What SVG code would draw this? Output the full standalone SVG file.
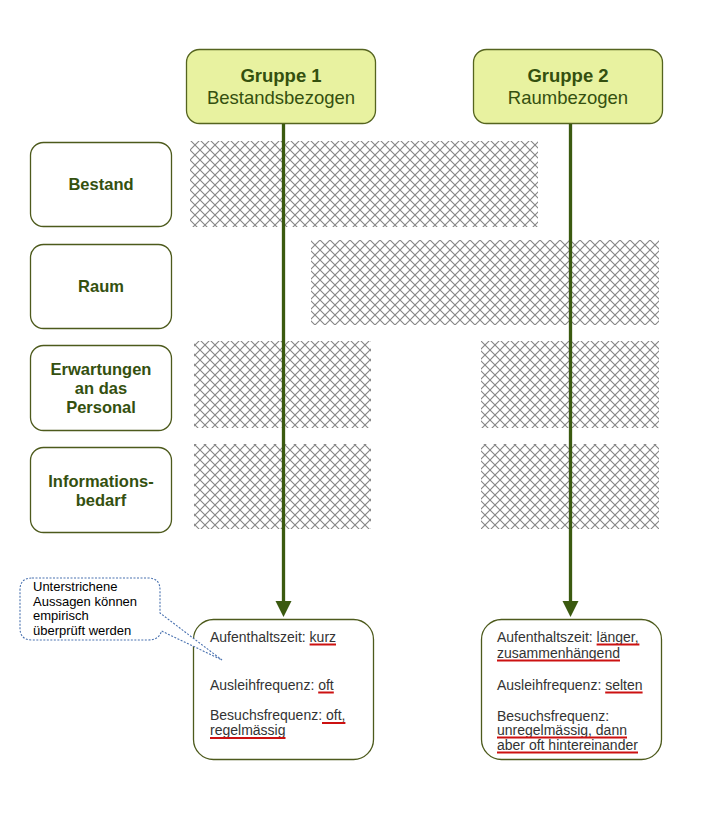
<svg xmlns="http://www.w3.org/2000/svg" width="718" height="822" viewBox="0 0 718 822">
<style>
.hdr{fill:#e8f2a0;stroke:#55641f;stroke-width:1.3}
.box{fill:#ffffff;stroke:#4d5a1c;stroke-width:1.3}
.hd{font-family:"Liberation Sans",Arial,sans-serif;font-size:18.5px;fill:#34500f;text-anchor:middle}
.lbl{font-family:"Liberation Sans",Arial,sans-serif;font-size:16.5px;font-weight:bold;fill:#34500f;text-anchor:middle}
.t{font-family:"Liberation Sans",Arial,sans-serif;font-size:14px;fill:#333}
.c{font-family:"Liberation Sans",Arial,sans-serif;font-size:13px;fill:#000}
.ul{stroke:#cc1111;stroke-width:2}
.hatch{fill:url(#xh)}
.arr{stroke:#3b5a10;stroke-width:3.3}
</style>
<defs>
<pattern id="xh" patternUnits="userSpaceOnUse" width="10" height="10">
<rect width="10" height="10" fill="#fff"/>
<path d="M-1,-1 L11,11 M11,-1 L-1,11" stroke="#858585" stroke-width="1.1" fill="none"/>
</pattern>
</defs>
<rect width="718" height="822" fill="#fff"/>

<g id="hatching">
<rect class="hatch" x="190" y="141" width="348" height="86"/>
<rect class="hatch" x="311" y="240" width="348" height="85"/>
<rect class="hatch" x="194" y="341" width="177" height="87"/>
<rect class="hatch" x="481" y="341" width="178" height="87"/>
<rect class="hatch" x="194" y="444" width="177" height="85"/>
<rect class="hatch" x="481" y="444" width="178" height="85"/>
</g>

<g id="gruppe1">
<rect class="hdr" x="186.5" y="49.5" width="189" height="74" rx="13"/>
<text class="hd" x="281" y="82" font-weight="bold">Gruppe 1</text>
<text class="hd" x="281" y="103.5">Bestandsbezogen</text>
</g>
<g id="gruppe2">
<rect class="hdr" x="473.5" y="49.5" width="189" height="74" rx="13"/>
<text class="hd" x="568" y="82" font-weight="bold">Gruppe 2</text>
<text class="hd" x="568" y="103.5">Raumbezogen</text>
</g>

<g id="bestand">
<rect class="box" x="30.5" y="142.5" width="141" height="84" rx="13"/>
<text class="lbl" x="101" y="190">Bestand</text>
</g>
<g id="raum">
<rect class="box" x="30.5" y="244.5" width="141" height="84" rx="13"/>
<text class="lbl" x="101" y="292">Raum</text>
</g>
<g id="erwartungen">
<rect class="box" x="30.5" y="345.5" width="141" height="85" rx="13"/>
<text class="lbl" x="101" y="375">Erwartungen</text>
<text class="lbl" x="101" y="394">an das</text>
<text class="lbl" x="101" y="413">Personal</text>
</g>
<g id="informationsbedarf">
<rect class="box" x="30.5" y="447.5" width="141" height="85" rx="13"/>
<text class="lbl" x="101" y="487">Informations-</text>
<text class="lbl" x="101" y="506">bedarf</text>
</g>

<g id="connectors">
<line class="arr" x1="283.5" y1="124" x2="283.5" y2="603"/>
<polygon points="275.5,601 291.5,601 283.5,617" fill="#3b5a10"/>
<line class="arr" x1="570.5" y1="124" x2="570.5" y2="603"/>
<polygon points="562.5,601 578.5,601 570.5,617" fill="#3b5a10"/>
</g>

<g id="result1">
<rect class="box" x="193.5" y="619.5" width="180" height="140" rx="20"/>
<text class="t" x="210" y="642">Aufenthaltszeit: kurz</text>
<line class="ul" x1="309.6" y1="644.5" x2="336" y2="644.5"/>
<text class="t" x="210" y="690">Ausleihfrequenz: oft</text>
<line class="ul" x1="318.2" y1="692.5" x2="333.8" y2="692.5"/>
<text class="t" x="210" y="720">Besuchsfrequenz: oft,</text>
<line class="ul" x1="322" y1="723" x2="345.4" y2="723"/>
<text class="t" x="210" y="735">regelmässig</text>
<line class="ul" x1="210" y1="738" x2="285.5" y2="738"/>
</g>

<g id="result2">
<rect class="box" x="481.5" y="619.5" width="180" height="140" rx="20"/>
<text class="t" x="497" y="642">Aufenthaltszeit: länger,</text>
<line class="ul" x1="596.6" y1="644.5" x2="639.4" y2="644.5"/>
<text class="t" x="497" y="658">zusammenhängend</text>
<line class="ul" x1="497" y1="660.5" x2="620" y2="660.5"/>
<text class="t" x="497" y="690">Ausleihfrequenz: selten</text>
<line class="ul" x1="605.2" y1="692.5" x2="642.6" y2="692.5"/>
<text class="t" x="497" y="721">Besuchsfrequenz:</text>
<text class="t" x="497" y="735">unregelmässig, dann</text>
<line class="ul" x1="497" y1="737.5" x2="627" y2="737.5"/>
<text class="t" x="497" y="750">aber oft hintereinander</text>
<line class="ul" x1="497" y1="752.5" x2="638" y2="752.5"/>
</g>

<g id="callout">
<path d="M32,578 H148 Q160,578 160,590 V613 L222,660 L161.5,631 Q159,640 148,640 H32 Q20,640 20,628 V590 Q20,578 32,578 Z" fill="#fff" stroke="#4a72b0" stroke-width="1.1" stroke-dasharray="2,1.5"/>
<text class="c" x="33" y="591">Unterstrichene</text>
<text class="c" x="33" y="605.7">Aussagen können</text>
<text class="c" x="33" y="620.3">empirisch</text>
<text class="c" x="33" y="635">überprüft werden</text>
</g>
</svg>
